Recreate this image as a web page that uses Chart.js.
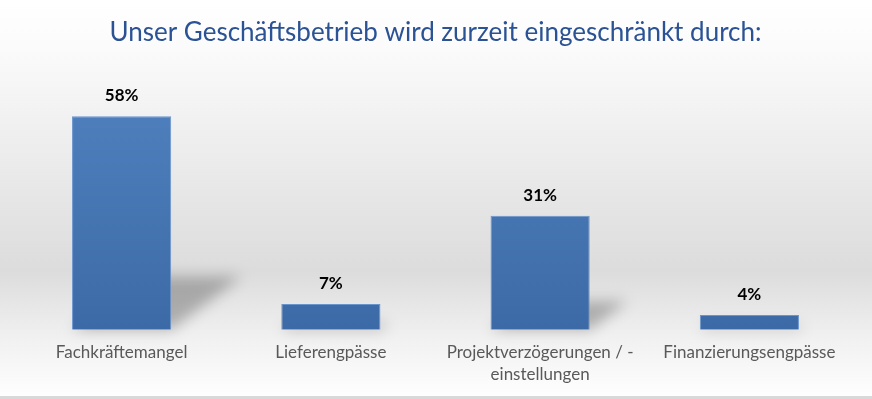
<!DOCTYPE html>
<html>
<head>
<meta charset="utf-8">
<script src="https://cdn.jsdelivr.net/npm/chart.js@4"></script>
<style>
  html, body { margin: 0; padding: 0; background: #fff; }
  #wrap { width: 872px; height: 399px; position: relative; }
</style>
</head>
<body>
<div id="wrap"><canvas id="chart"></canvas></div>
<script>
const categories = [
    'Fachkräftemangel',
    'Lieferengpässe',
    ['Projektverzögerungen / -', 'einstellungen'],
    'Finanzierungsengpässe'
];
const values = [58, 7, 31, 4];
const chartTitle = 'Unser Geschäftsbetrieb wird zurzeit eingeschränkt durch:';

const fontFamily = "Lato, 'Open Sans', sans-serif";

// background gradient + bottom border
const backdrop = {
    id: 'backdrop',
    beforeDraw(chart) {
        const { ctx, width, height } = chart;
        const g = ctx.createLinearGradient(0, 0, 0, height);
        g.addColorStop(0, '#ffffff');
        g.addColorStop(0.12, '#fbfbfb');
        g.addColorStop(0.68, '#dcdcdc');
        g.addColorStop(0.85, '#f1f1f1');
        g.addColorStop(1, '#ffffff');
        ctx.save();
        ctx.fillStyle = g;
        ctx.fillRect(0, 0, width, height);
        ctx.fillStyle = '#d9d9d9';
        ctx.fillRect(0, height - 3, width, 3);
        ctx.restore();
    }
};

// soft perspective shadow behind each bar
const barShadow = {
    id: 'barShadow',
    beforeDatasetsDraw(chart) {
        const { ctx } = chart;
        const meta = chart.getDatasetMeta(0);
        ctx.save();
        ctx.filter = 'blur(7px)';
        ctx.fillStyle = 'rgba(0,0,0,0.26)';
        meta.data.forEach(bar => {
            const h = bar.base - bar.y;
            const left = bar.x - bar.width / 2;
            const right = bar.x + bar.width / 2;
            const dx = h * 0.33, dy = h * 0.25;
            ctx.beginPath();
            ctx.moveTo(left, bar.base);
            ctx.lineTo(right, bar.base);
            ctx.lineTo(right + dx, bar.base - dy);
            ctx.lineTo(left + dx, bar.base - dy);
            ctx.closePath();
            ctx.fill();
        });
        ctx.restore();
    }
};

// value labels above bars
const valueLabels = {
    id: 'valueLabels',
    afterDatasetsDraw(chart) {
        const { ctx } = chart;
        const meta = chart.getDatasetMeta(0);
        ctx.save();
        ctx.font = 'bold 17px ' + fontFamily;
        ctx.fillStyle = '#000000';
        ctx.textAlign = 'center';
        ctx.textBaseline = 'bottom';
        meta.data.forEach((bar, i) => {
            ctx.fillText(values[i] + '%', bar.x, bar.y - 12);
        });
        ctx.restore();
    }
};

new Chart(document.getElementById('chart'), {
    type: 'bar',
    data: {
        labels: categories,
        datasets: [{
            data: values,
            backgroundColor(c) {
                const area = c.chart.chartArea;
                if (!area) return '#4a7cba';
                const g = c.chart.ctx.createLinearGradient(0, area.top, 0, area.bottom);
                g.addColorStop(0, '#5183c0');
                g.addColorStop(1, '#3c6aa6');
                return g;
            },
            borderColor: '#6a95cc',
            borderWidth: 1,
            barPercentage: 0.474,
            categoryPercentage: 1
        }]
    },
    options: {
        responsive: true,
        maintainAspectRatio: false,
        animation: false,
        layout: { padding: { left: 17, right: 18, top: 0, bottom: 9 } },
        plugins: {
            legend: { display: false },
            tooltip: { enabled: false },
            title: {
                display: true,
                text: chartTitle,
                color: '#2a5294',
                font: { family: fontFamily, size: 26, weight: 'normal' },
                padding: { top: 17, bottom: 24 }
            }
        },
        scales: {
            x: {
                grid: { display: false },
                border: { display: false },
                ticks: {
                    color: '#595959',
                    font: { family: fontFamily, size: 17, lineHeight: 1.3 },
                    padding: 4,
                    maxRotation: 0,
                    autoSkip: false
                }
            },
            y: {
                display: false,
                min: 0,
                max: 70
            }
        }
    },
    plugins: [backdrop, barShadow, valueLabels]
});
</script>
</body>
</html>
